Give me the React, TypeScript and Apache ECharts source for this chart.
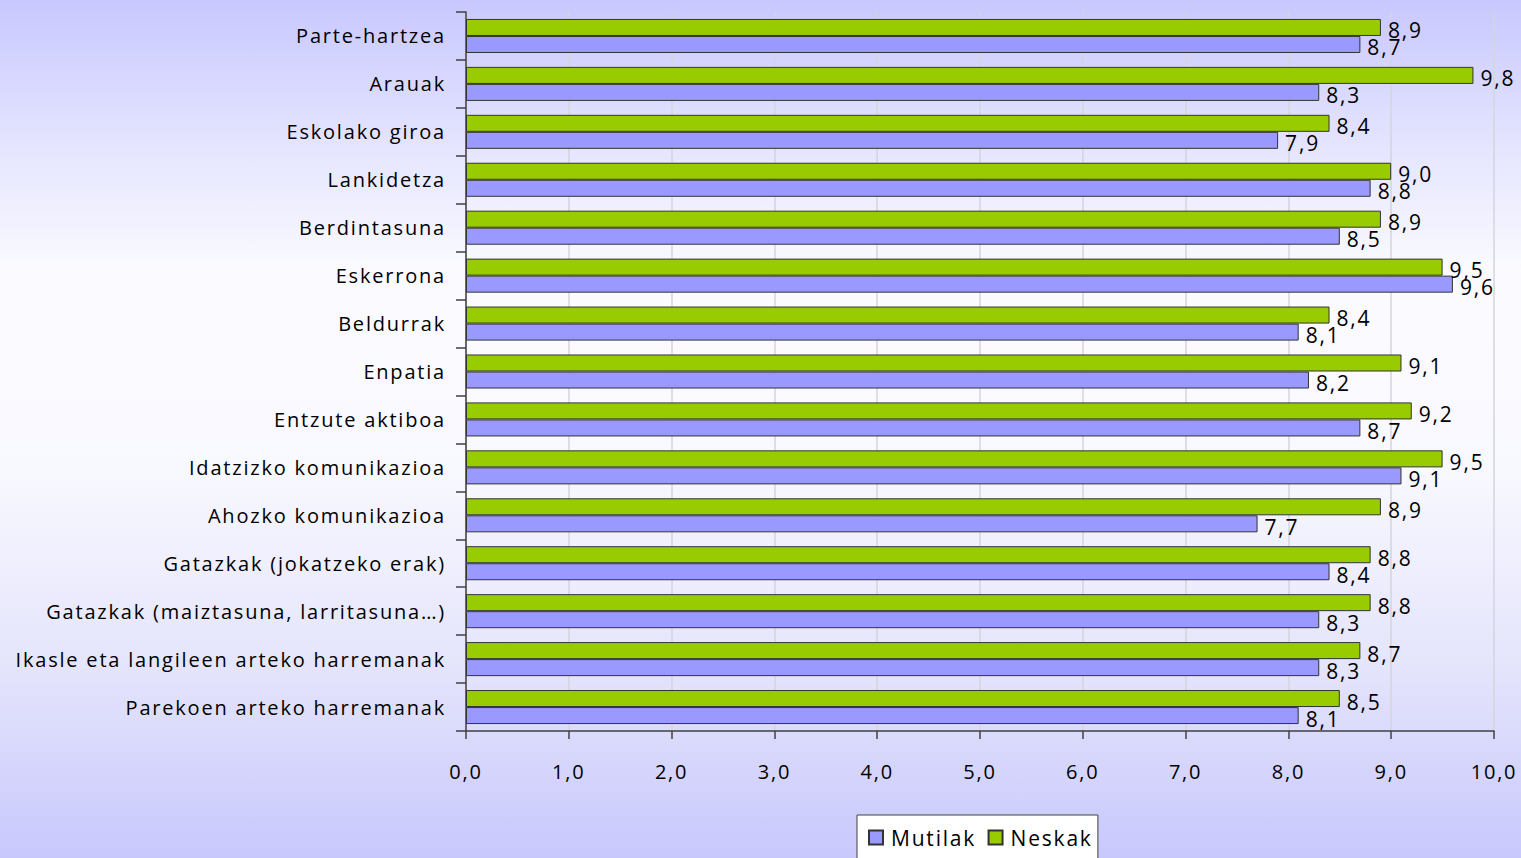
import React, { useEffect, useRef } from "react";
import * as echarts from "echarts";

const categories = [
  "Parte-hartzea",
  "Arauak",
  "Eskolako giroa",
  "Lankidetza",
  "Berdintasuna",
  "Eskerrona",
  "Beldurrak",
  "Enpatia",
  "Entzute aktiboa",
  "Idatzizko komunikazioa",
  "Ahozko komunikazioa",
  "Gatazkak (jokatzeko erak)",
  "Gatazkak (maiztasuna, larritasuna…)",
  "Ikasle eta langileen arteko harremanak",
  "Parekoen arteko harremanak",
];

const neskak = [8.9, 9.8, 8.4, 9.0, 8.9, 9.5, 8.4, 9.1, 9.2, 9.5, 8.9, 8.8, 8.8, 8.7, 8.5];
const mutilak = [8.7, 8.3, 7.9, 8.8, 8.5, 9.6, 8.1, 8.2, 8.7, 9.1, 7.7, 8.4, 8.3, 8.3, 8.1];

const FONT = "Open Sans";
const fmt = (v: number) => v.toFixed(1).replace(".", ",");

export default function App() {
  const ref = useRef<HTMLDivElement>(null);
  useEffect(() => {
    if (!ref.current) return;
    const chart = echarts.init(ref.current, undefined, { renderer: "svg" });
    const labelCfg = {
      show: true,
      position: "right" as const,
      distance: 7,
      offset: [0, 3],
      color: "#000",
      fontFamily: FONT,
      fontSize: 21,
      formatter: (p: any) => fmt(p.value),
    };
    chart.setOption({
      animation: false,
      textStyle: { fontFamily: FONT },
      grid: { left: 466, right: 27, top: 12, bottom: 127, containLabel: false },
      legend: {
        data: ["Mutilak", "Neskak"],
        left: 857,
        top: 815,
        backgroundColor: "#ffffff",
        borderColor: "#404040",
        borderWidth: 1,
        padding: [12, 16, 20, 11],
        itemWidth: 14,
        itemHeight: 14,
        itemGap: 24,
        icon: "rect",
        textStyle: { fontFamily: FONT, fontSize: 21, color: "#000", padding: [0, 0, 0, 3] },
      },
      xAxis: {
        type: "value",
        min: 0,
        max: 10,
        interval: 1,
        axisLine: { show: true, lineStyle: { color: "#404040", width: 1.5 } },
        axisTick: { show: true, length: 8, lineStyle: { color: "#404040", width: 1.5 } },
        axisLabel: {
          margin: 30,
          color: "#000",
          fontFamily: FONT,
          fontSize: 20,
          formatter: (v: number) => fmt(v),
        },
        splitLine: { show: true, lineStyle: { color: "#d4d4dc", width: 1.5 } },
      },
      yAxis: {
        type: "category",
        data: categories,
        inverse: true,
        axisLine: { show: true, lineStyle: { color: "#404040", width: 1.5 } },
        axisTick: { show: true, length: 10, lineStyle: { color: "#404040", width: 1.5 } },
        axisLabel: {
          margin: 20,
          color: "#000",
          fontFamily: FONT,
          fontSize: 20,
          padding: [4, 0, 0, 0],
        },
      },
      series: [
        {
          name: "Neskak",
          type: "bar",
          data: neskak,
          barGap: "0%",
          barCategoryGap: "29%",
          itemStyle: { color: "#99cc00", borderColor: "#333333", borderWidth: 1 },
          label: labelCfg,
        },
        {
          name: "Mutilak",
          type: "bar",
          data: mutilak,
          barGap: "0%",
          barCategoryGap: "29%",
          itemStyle: { color: "#9999ff", borderColor: "#333333", borderWidth: 1 },
          label: labelCfg,
        },
      ],
    });
    return () => chart.dispose();
  }, []);
  return (
    <>
      <style>{`#chartbox text { letter-spacing: 1.8px; }`}</style>
      <div
        id="chartbox"
        ref={ref}
        style={{
          position: "fixed",
          left: 0,
          top: 0,
          width: 1521,
          height: 858,
          background:
            "linear-gradient(to bottom, #c8c8ff 0%, #e6e6ff 18%, #fbfbff 32%, #f8f8ff 55%, #e4e4fc 78%, #c8c8fd 100%)",
        }}
      />
    </>
  );
}
